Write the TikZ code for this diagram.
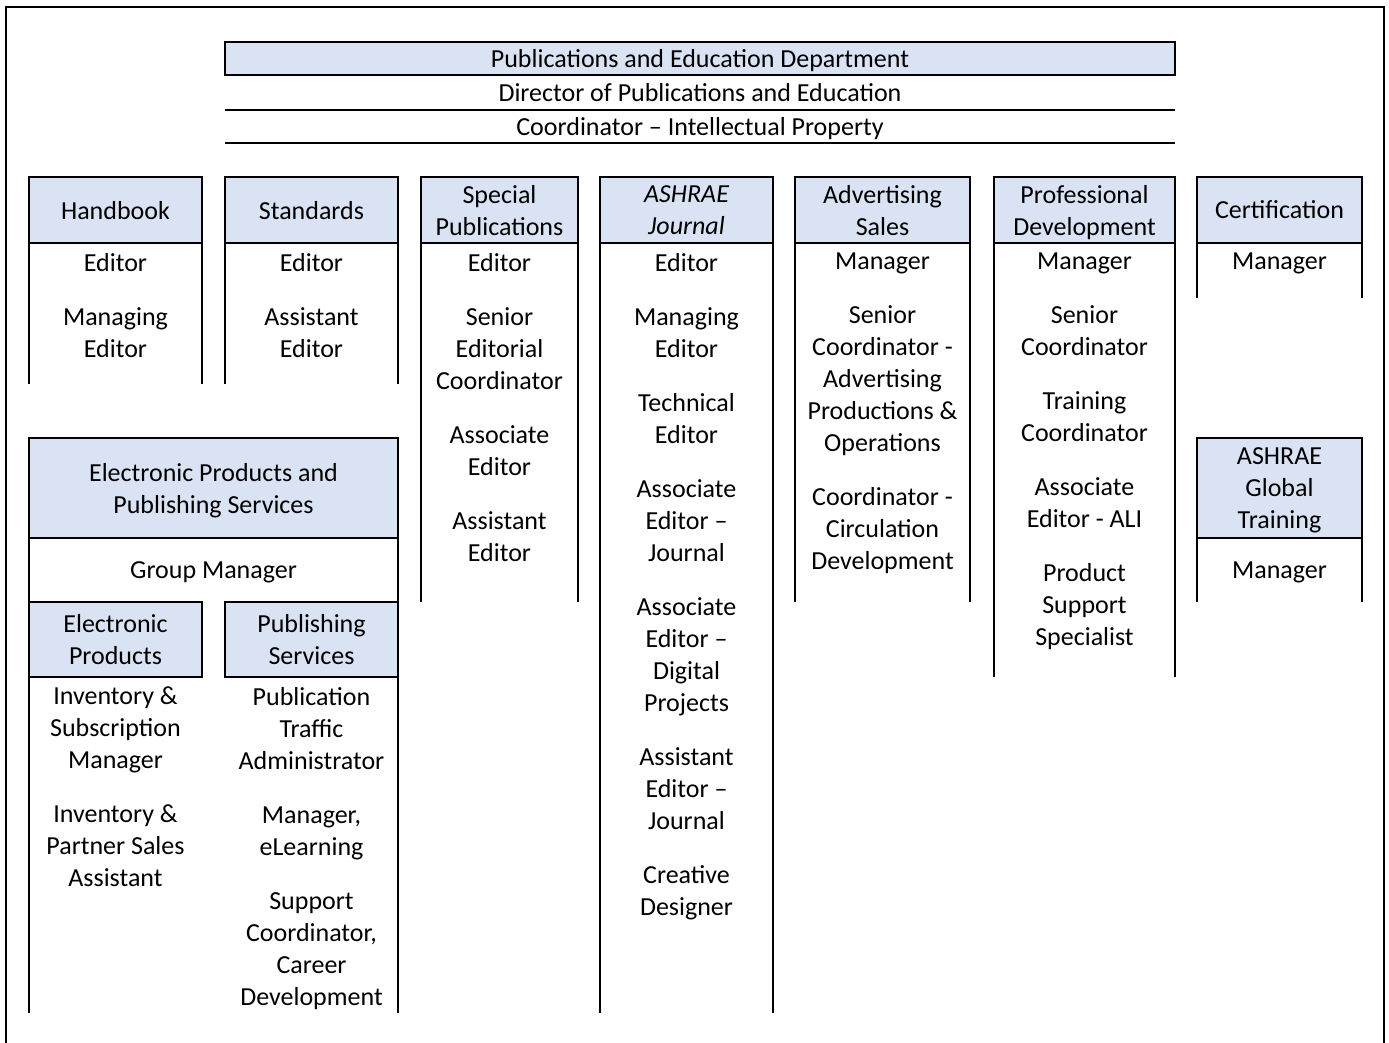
\documentclass[tikz,border=0pt]{standalone}
\usepackage{fontspec}
\setmainfont{Carlito}
\usepackage{tikz}
\usetikzlibrary{positioning}
\usepackage{xcolor}
\definecolor{headblue}{RGB}{218,227,243}

\begin{document}
\begin{tikzpicture}[
  x = 0.5pt, y = -0.5pt,
  every node/.style = {font = \fontsize{13}{16}\selectfont, align = center, outer sep = 0pt},
  unit/.style = {draw, fill = headblue, line width = 1.2pt, inner sep = 0pt, text depth = 0pt},
  title/.style = {minimum width = 475pt, inner sep = 0pt, text depth = 0pt},
  role/.style = {anchor = north, inner sep = 0pt},
  rule/.style = {line width = 1.2pt}
]
\useasboundingbox (0,0) rectangle (1389,1043);

% frame, open at the bottom
\coordinate (frameBL) at (6,1043);
\coordinate (frameTL) at (6,7);
\coordinate (frameTR) at (1384,7);
\coordinate (frameBR) at (1384,1043);
\draw[rule] (frameBL) -- (frameTL) -- (frameTR) -- (frameBR);

% department
\node[unit, minimum width = 475pt, minimum height = 16.5pt] (dept) at (700,58.5)
  {Publications and Education Department};
\node[title, minimum height = 17.5pt, below = 0pt of dept] (dir)
  {Director of Publications and Education};
\node[title, minimum height = 16.5pt, below = 0pt of dir] (ipc)
  {Coordinator -- Intellectual Property};
\draw[rule] (dir.south west) -- (dir.south east);
\draw[rule] (ipc.south west) -- (ipc.south east);

% unit headers
\node[unit, minimum width = 86.5pt, minimum height = 33pt] (hb) at (115.5,210) {Handbook};
\node[unit, minimum width = 86.5pt, minimum height = 33pt] (st) at (311.5,210) {Standards};
\node[unit, minimum width = 78.5pt, minimum height = 33pt] (sp) at (499.5,210) {Special\\Publications};
\node[unit, minimum width = 86.5pt, minimum height = 33pt] (aj) at (686.5,210) {\itshape ASHRAE\\\itshape Journal};
\node[unit, minimum width = 87.5pt, minimum height = 33pt] (ad) at (882.5,210) {Advertising\\Sales};
\node[unit, minimum width = 90.5pt, minimum height = 33pt] (pd) at (1084.5,210) {Professional\\Development};
\node[unit, minimum width = 82.5pt, minimum height = 33pt] (ce) at (1279.5,210) {Certification};
\node[unit, minimum width = 82.5pt, minimum height = 50pt] (gt) at (1279.5,488) {ASHRAE\\Global\\Training};
\node[unit, minimum width = 184.5pt, minimum height = 50pt] (ep) at (213.5,488) {Electronic Products and\\Publishing Services};
\node[unit, minimum width = 86.5pt, minimum height = 37.5pt] (el) at (115.5,639.5) {Electronic\\Products};
\node[unit, minimum width = 86.5pt, minimum height = 37.5pt] (ps) at (311.5,639.5) {Publishing\\Services};

% staff
\node[role] (hbstaff) at (115.5,253) {Editor\\[11pt] Managing\\Editor};
\node[role] (ststaff) at (311.5,253) {Editor\\[11pt] Assistant\\Editor};
\node[role] (spstaff) at (499.5,253) {Editor\\[11pt] Senior\\Editorial\\Coordinator\\[11pt]
  Associate\\Editor\\[11pt] Assistant\\Editor};
\node[role] (ajstaff) at (686.5,253) {Editor\\[11pt] Managing\\Editor\\[11pt] Technical\\Editor\\[11pt]
  Associate\\Editor --\\Journal\\[11pt] Associate\\Editor --\\Digital\\Projects\\[11pt]
  Assistant\\Editor --\\Journal\\[11pt] Creative\\Designer};
\node[role] (adstaff) at (882.5,253) {Manager\\[11pt] Senior\\Coordinator -\\Advertising\\Productions \&\\Operations\\[11pt]
  Coordinator -\\Circulation\\Development};
\node[role] (pdstaff) at (1084.5,253) {Manager\\[11pt] Senior\\Coordinator\\[11pt] Training\\Coordinator\\[11pt]
  Associate\\Editor - ALI\\[11pt] Product\\Support\\Specialist};
\node[role] (cestaff) at (1279.5,253) {Manager};
\node[role] (gtstaff) at (1279.5,562) {Manager};
\node[role] (epstaff) at (213.5,562) {Group Manager};
\node[role] (elstaff) at (115.5,687) {Inventory \&\\Subscription\\Manager\\[11pt]
  Inventory \&\\Partner Sales\\Assistant};
\node[role] (psstaff) at (311.5,687) {Publication\\Traffic\\Administrator\\[11pt]
  Manager,\\eLearning\\[11pt] Support\\Coordinator,\\Career\\Development};

% column sides
\coordinate (lowA) at (0,384);
\coordinate (lowB) at (0,602);
\coordinate (lowC) at (0,677);
\coordinate (lowD) at (0,298);
\coordinate (lowE) at (0,1013);
\foreach \c/\e in {hb/lowA, st/lowA, sp/lowB, aj/lowE, ad/lowB, pd/lowC, ce/lowD, gt/lowB}
  \draw[rule] (\c.south west) -- (\c.south west |- \e)
              (\c.south east) -- (\c.south east |- \e);
\draw[rule] (ep.south west) -- (el.north west);
\draw[rule] (ep.south east) -- (ps.north east);
\draw[rule] (el.south west) -- (el.south west |- lowE);
\draw[rule] (ps.south east) -- (ps.south east |- lowE);
\end{tikzpicture}
\end{document}
